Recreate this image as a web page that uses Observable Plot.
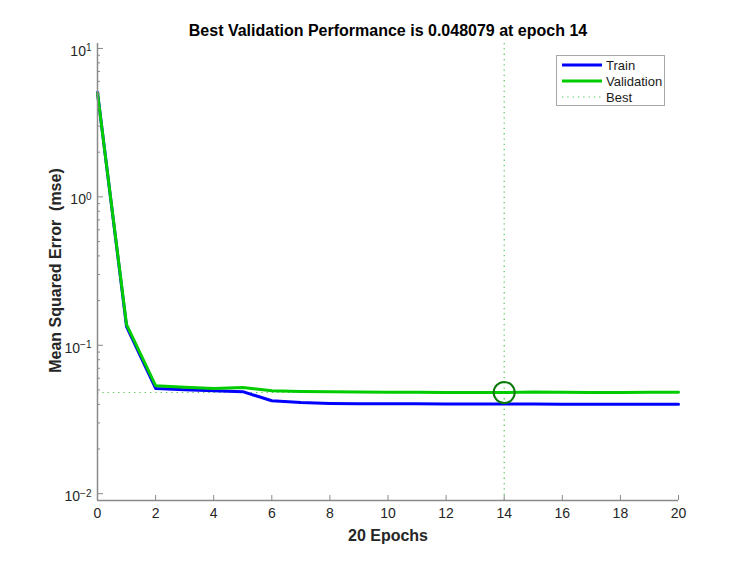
<!DOCTYPE html>
<html>
<head>
<meta charset="utf-8">
<script src="https://cdn.jsdelivr.net/npm/d3@7"></script>
<script src="https://cdn.jsdelivr.net/npm/@observablehq/plot@0.6"></script>
<style>
  html, body { margin: 0; padding: 0; background: #fff; }
  #wrap { position: relative; width: 749px; height: 562px; overflow: hidden; }
  #wrap svg { font-family: "Liberation Sans", Arial, Helvetica, sans-serif; }
  #legend { position: absolute; left: 556px; top: 55px; }
</style>
</head>
<body>
<div id="wrap"><div id="chart"></div><div id="legend"></div></div>
<script>
// ---- data ----
const epochs = [0, 1, 2, 3, 4, 5, 6, 7, 8, 9, 10, 11, 12, 13, 14, 15, 16, 17, 18, 19, 20];
const trainMse = [5.05, 0.1335, 0.0512, 0.0502, 0.0494, 0.0487, 0.0423, 0.0411, 0.0406, 0.0404, 0.0403,
                  0.0403, 0.0402, 0.0402, 0.0402, 0.0402, 0.0401, 0.0401, 0.0401, 0.0400, 0.0400];
const validationMse = [5.0, 0.1377, 0.0534, 0.0522, 0.0512, 0.0520, 0.0494, 0.0489, 0.0486, 0.0484, 0.0483,
                       0.0482, 0.0481, 0.0481, 0.048079, 0.0484, 0.0482, 0.0481, 0.0481, 0.0482, 0.0483];
const bestEpoch = 14;
const bestPerf = 0.048079;
const seriesNames = ["Train", "Validation", "Best"];
const xTicks = [0, 2, 4, 6, 8, 10, 12, 14, 16, 18, 20];
const yMajorTicks = [0.01, 0.1, 1, 10];
const yMinorTicks = [0.02, 0.03, 0.04, 0.05, 0.06, 0.07, 0.08, 0.09,
                     0.2, 0.3, 0.4, 0.5, 0.6, 0.7, 0.8, 0.9,
                     2, 3, 4, 5, 6, 7, 8, 9];
const yDomain = [0.009, 10.8];
const xDomain = [0, 20];
const titleText = "Best Validation Performance is 0.048079 at epoch 14";
const xLabelText = "20 Epochs";
const yLabelText = "Mean Squared Error  (mse)";

// ---- build ----
const trainData = epochs.map((e, i) => ({epoch: e, mse: trainMse[i]}));
const valData = epochs.map((e, i) => ({epoch: e, mse: validationMse[i]}));

const colors = {train: "#0000ff", val: "#00cc00", best: "#55c455", circle: "#0b7a0b", axis: "#8a8a8a"};
const bestDash = "1.3,4";

const chart = Plot.plot({
  width: 749,
  height: 562,
  marginTop: 43,
  marginBottom: 62,
  marginLeft: 97,
  marginRight: 71,
  style: {fontFamily: "'Liberation Sans', Arial, sans-serif", fontSize: "14px", color: "#262626", background: "white", overflow: "visible"},
  x: {domain: xDomain},
  y: {type: "log", domain: yDomain},
  marks: [
    Plot.ruleY([bestPerf], {stroke: colors.best, strokeWidth: 1.2, strokeDasharray: bestDash}),
    Plot.ruleX([bestEpoch], {stroke: colors.best, strokeWidth: 1.2, strokeDasharray: bestDash}),
    Plot.line(trainData, {x: "epoch", y: "mse", stroke: colors.train, strokeWidth: 3}),
    Plot.line(valData, {x: "epoch", y: "mse", stroke: colors.val, strokeWidth: 3}),
    Plot.dot([{epoch: bestEpoch, mse: bestPerf}], {x: "epoch", y: "mse", r: 10.5, stroke: colors.circle, strokeWidth: 2, fill: "none"}),
    Plot.axisX({ticks: xTicks, tickSize: -5, tickFormat: () => "", label: null, stroke: colors.axis}),
    Plot.axisX({ticks: xTicks, tickSize: 0, tickPadding: 8, tickFormat: d => String(d), label: null, fontSize: 14, fill: "#262626"}),
    Plot.axisY({ticks: yMajorTicks, tickSize: -6, tickFormat: () => "", label: null, stroke: colors.axis}),
    Plot.axisY({ticks: yMinorTicks, tickSize: -3, tickFormat: () => "", label: null, stroke: colors.axis}),
    Plot.axisY({ticks: yMajorTicks, tickSize: 0, tickPadding: 6, dy: 3, tickFormat: d => "10^" + Math.round(Math.log10(d)), label: null, fontSize: 14, fill: "#262626"}),
    Plot.ruleX([xDomain[0]], {stroke: colors.axis, strokeWidth: 1.5}),
    Plot.ruleY([yDomain[0]], {stroke: colors.axis, strokeWidth: 1.5}),
    Plot.text([titleText], {text: d => d, frameAnchor: "top", lineAnchor: "middle", dy: -13, fontSize: 16, fontWeight: "bold", fill: "#000"}),
    Plot.text([xLabelText], {text: d => d, frameAnchor: "bottom", lineAnchor: "middle", dy: 35, fontSize: 16, fontWeight: "bold", fill: "#262626"}),
    Plot.text([yLabelText], {text: d => d, frameAnchor: "left", textAnchor: "middle", lineAnchor: "middle", dx: -42, dy: -1.5, rotate: -90, fontSize: 16, fontWeight: "bold", fill: "#262626"})
  ]
});
document.getElementById("chart").appendChild(chart);

// render exponents as superscripts
d3.select(chart).selectAll("text").each(function() {
  const t = this.textContent;
  const m = /^10\^(-?\d+)$/.exec(t);
  if (!m) return;
  const sel = d3.select(this);
  sel.text(null);
  sel.append("tspan").text("10");
  sel.append("tspan").attr("dy", "-0.45em").attr("font-size", "10px").text(m[1].replace("-", "\u2212"));
});

// legend
const lg = d3.select("#legend").append("svg").attr("width", 110).attr("height", 52)
  .style("font-family", "'Liberation Sans', Arial, sans-serif").style("font-size", "13px");
lg.append("rect").attr("x", 0.5).attr("y", 0.5).attr("width", 108).attr("height", 50)
  .attr("fill", "#fff").attr("stroke", "#a8a8a8").attr("stroke-width", 1);
const legendStyles = [
  {stroke: colors.train, width: 3, dash: null},
  {stroke: colors.val, width: 3, dash: null},
  {stroke: colors.best, width: 1.2, dash: bestDash}
];
seriesNames.forEach((name, i) => {
  const y = 10 + i * 16;
  lg.append("line").attr("x1", 6).attr("x2", 46).attr("y1", y).attr("y2", y)
    .attr("stroke", legendStyles[i].stroke).attr("stroke-width", legendStyles[i].width)
    .attr("stroke-dasharray", legendStyles[i].dash);
  lg.append("text").attr("x", 50).attr("y", y + 4.5).attr("fill", "#1a1a1a").text(name);
});
</script>
</body>
</html>
